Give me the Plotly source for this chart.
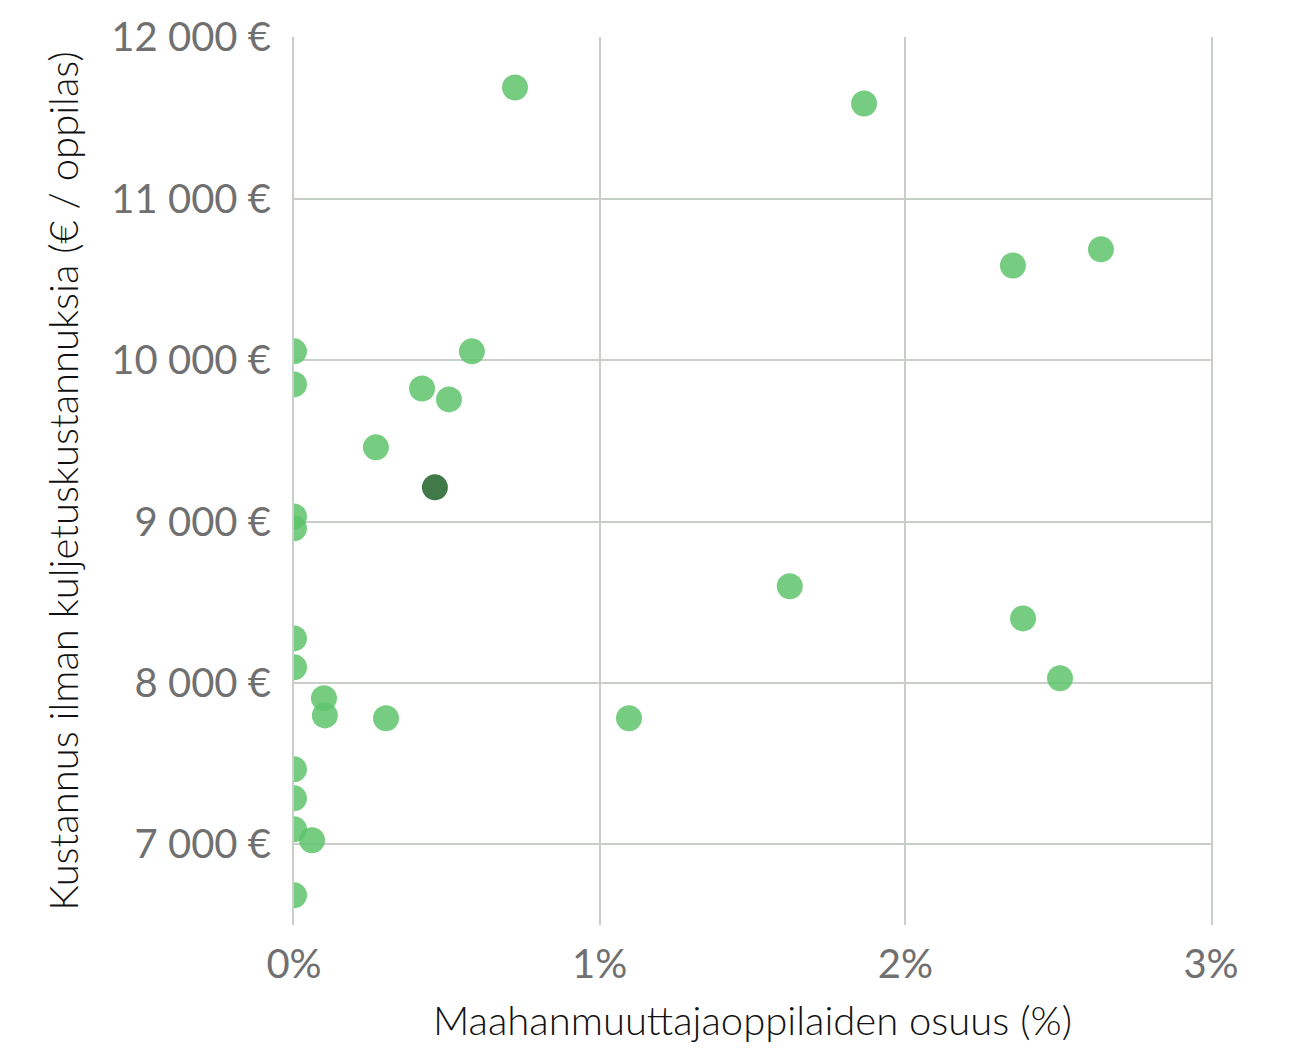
import plotly.graph_objects as go

# Data: immigrant pupil share (%) vs cost excluding transport (€/pupil)
share_pct = [0.723, 1.865, 2.352, 2.640, 0.0, 0.582, 0.0, 0.419, 0.507, 0.268,
             0.0, 0.0, 1.622, 0.0, 2.385, 0.0, 2.506, 0.098, 0.101, 0.301,
             1.096, 0.0, 0.0, 0.0, 0.059, 0.0]
cost_eur = [11690, 11591, 10587, 10687, 10055, 10055, 9850, 9825, 9757, 9460,
            9032, 8958, 8599, 8276, 8400, 8097, 8029, 7905, 7799, 7781,
            7781, 7465, 7285, 7093, 7025, 6684]

highlight_share = [0.461]
highlight_cost = [9212]

y_tick_vals = [7000, 8000, 9000, 10000, 11000, 12000]
y_tick_text = ["7 000 €", "8 000 €", "9 000 €", "10 000 €", "11 000 €", "12 000 €"]
x_tick_vals = [0, 1, 2, 3]
x_tick_text = ["0%", "1%", "2%", "3%"]

x_title = "Maahanmuuttajaoppilaiden osuus (%)"
y_title = "Kustannus ilman kuljetuskustannuksia (€ / oppilas)"

fig = go.Figure()
fig.add_trace(go.Scatter(
    x=share_pct, y=cost_eur, mode="markers",
    marker=dict(size=26, color="#5ec46c", opacity=0.85, line=dict(width=0)),
    showlegend=False,
))
fig.add_trace(go.Scatter(
    x=highlight_share, y=highlight_cost, mode="markers",
    marker=dict(size=26, color="#2c6a35", opacity=0.9, line=dict(width=0)),
    showlegend=False,
))

grid = "#c8cec8"
font_family = "Lato, 'Open Sans', 'Noto Sans', sans-serif"
fig.update_layout(
    width=1297, height=1036,
    margin=dict(l=286, r=94, t=29, b=119),
    plot_bgcolor="white", paper_bgcolor="white",
    font=dict(family=font_family, color="#666666"),
    xaxis=dict(
        range=[0, 3], tickvals=x_tick_vals, ticktext=x_tick_text,
        showgrid=True, gridcolor=grid, gridwidth=2, zeroline=False,
        showline=False, ticks="", ticklabelstandoff=12, automargin=False,
        tickfont=dict(size=40, color="#707070", weight=400),
        title=dict(text=x_title, font=dict(size=40, color="#111111", weight=300), standoff=28),
    ),
    yaxis=dict(
        range=[6500, 12003], tickvals=y_tick_vals, ticktext=y_tick_text,
        showgrid=True, gridcolor=grid, gridwidth=2, zeroline=False,
        showline=True, linecolor=grid, linewidth=2, mirror=True,
        ticks="", ticklabelstandoff=13, automargin=False,
        tickfont=dict(size=40, color="#707070", weight=400),
        title=dict(text=y_title, font=dict(size=40, color="#111111", weight=300), standoff=20),
    ),
)

fig.write_html("out.html")
